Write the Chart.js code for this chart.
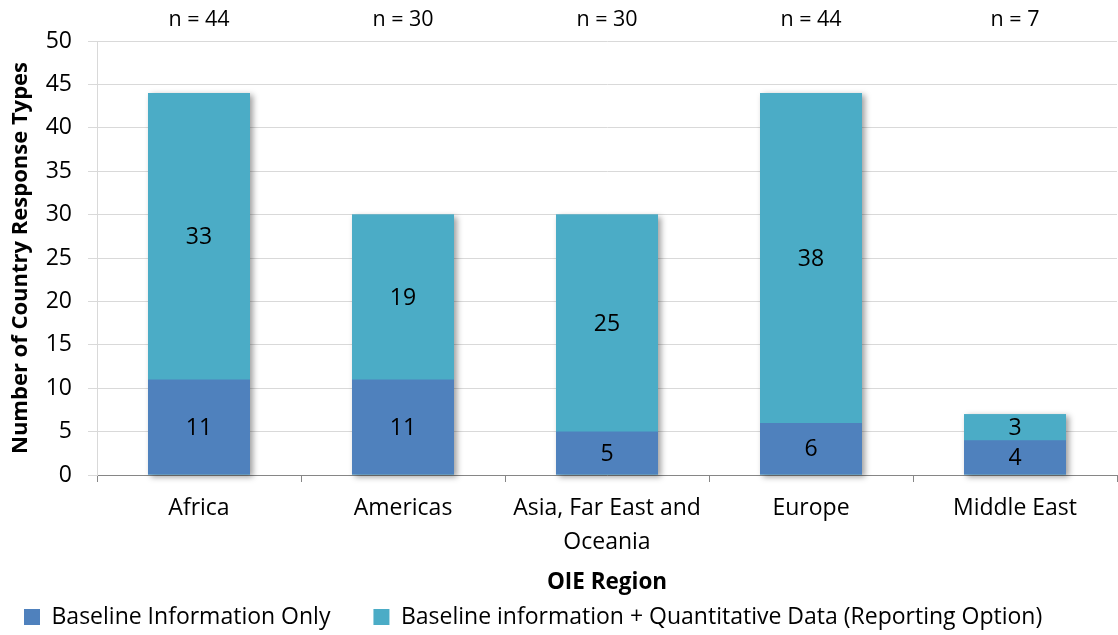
<!DOCTYPE html>
<html>
<head>
<meta charset="utf-8">
<script src="https://cdn.jsdelivr.net/npm/chart.js@4/dist/chart.umd.min.js"></script>
<style>
  html, body { margin: 0; padding: 0; background: #ffffff; }
  #wrap { width: 1118px; height: 635px; position: relative; }
</style>
</head>
<body>
<div id="wrap"><canvas id="chart"></canvas></div>
<script>
// OIE regions and the number of country response types in each
const regions = ['Africa', 'Americas', ['Asia, Far East and', 'Oceania'], 'Europe', 'Middle East'];
const baselineOnly = [11, 11, 5, 6, 4];
const baselinePlusQuant = [33, 19, 25, 38, 3];
const regionTotals = [44, 30, 30, 44, 7];
const yTicks = [0, 5, 10, 15, 20, 25, 30, 35, 40, 45, 50];

const FONT = "'Open Sans', 'DejaVu Sans', sans-serif";
const LEGEND_GAP = 43;

// Soft drop shadow behind each whole stacked column (drawn once, under the bars)
const columnShadow = {
  id: 'columnShadow',
  beforeDatasetsDraw(chart) {
    const ctx = chart.ctx;
    const metas = chart.data.datasets.map((_, di) => chart.getDatasetMeta(di));
    ctx.save();
    ctx.shadowColor = 'rgba(0,0,0,0.38)';
    ctx.shadowBlur = 6;
    ctx.shadowOffsetX = 3;
    ctx.shadowOffsetY = 2;
    ctx.fillStyle = '#4BACC6';
    regions.forEach((_, i) => {
      let top = Infinity, bottom = -Infinity, x = 0, w = 0;
      metas.forEach(m => {
        const p = m.data[i].getProps(['x', 'y', 'base', 'width'], true);
        top = Math.min(top, p.y, p.base);
        bottom = Math.max(bottom, p.y, p.base);
        x = p.x; w = p.width;
      });
      ctx.fillRect(x - w / 2, top, w, bottom - top);
    });
    ctx.restore();
  }
};

// Value printed in the middle of each segment
const segmentLabels = {
  id: 'segmentLabels',
  afterDatasetsDraw(chart) {
    const ctx = chart.ctx;
    ctx.save();
    ctx.font = '23px ' + FONT;
    ctx.fillStyle = '#000000';
    ctx.textAlign = 'center';
    ctx.textBaseline = 'middle';
    chart.data.datasets.forEach((ds, di) => {
      const meta = chart.getDatasetMeta(di);
      meta.data.forEach((bar, i) => {
        const p = bar.getProps(['x', 'y', 'base'], true);
        ctx.fillText(String(ds.data[i]), p.x, (p.y + p.base) / 2 + 1);
      });
    });
    ctx.restore();
  }
};

// "n = ..." totals above each region
const totalsAbove = {
  id: 'totalsAbove',
  afterDraw(chart) {
    const ctx = chart.ctx;
    const x = chart.scales.x;
    ctx.save();
    ctx.font = '21.5px ' + FONT;
    ctx.fillStyle = '#000000';
    ctx.textAlign = 'center';
    ctx.textBaseline = 'middle';
    regionTotals.forEach((n, i) => {
      ctx.fillText('n = ' + n, x.getPixelForValue(i), 20);
    });
    ctx.restore();
  }
};

// Keep the wide gap between legend entries while starting the first one near the left edge
const legendShift = {
  id: 'legendShift',
  beforeDraw(chart) {
    if (chart.legend) chart.legend.left = 24 - LEGEND_GAP;
  }
};

new Chart(document.getElementById('chart'), {
  type: 'bar',
  data: {
    labels: regions,
    datasets: [
      {
        label: 'Baseline Information Only',
        data: baselineOnly,
        backgroundColor: '#4F81BD',
        borderWidth: 0,
        categoryPercentage: 1.0,
        barPercentage: 0.5
      },
      {
        label: 'Baseline information + Quantitative Data (Reporting Option)',
        data: baselinePlusQuant,
        backgroundColor: '#4BACC6',
        borderWidth: 0,
        categoryPercentage: 1.0,
        barPercentage: 0.5
      }
    ]
  },
  options: {
    responsive: true,
    maintainAspectRatio: false,
    animation: false,
    layout: { padding: { top: 41, right: 1, left: 0, bottom: -3.5 } },
    plugins: {
      legend: {
        position: 'bottom',
        align: 'start',
        labels: {
          boxWidth: 16,
          boxHeight: 16,
          padding: LEGEND_GAP,
          color: '#000000',
          font: { family: FONT, size: 23 }
        }
      },
      tooltip: { enabled: false }
    },
    scales: {
      x: {
        stacked: true,
        afterFit(scale) { scale.height = 87.5; },
        grid: {
          offset: true,
          drawOnChartArea: false,
          tickLength: 7,
          color: '#868686'
        },
        border: { color: '#868686', width: 1 },
        ticks: {
          color: '#000000',
          padding: 9,
          maxRotation: 0,
          autoSkip: false,
          font: { family: FONT, size: 23, lineHeight: 1.48 }
        },
        title: {
          display: true,
          text: 'OIE Region',
          color: '#000000',
          padding: { top: 0, bottom: -34 },
          font: { family: FONT, size: 22.5, weight: 'bold' }
        }
      },
      y: {
        stacked: true,
        min: 0,
        max: 50,
        afterBuildTicks(scale) {
          scale.ticks = yTicks.map(v => ({ value: v }));
        },
        afterFit(scale) { scale.width = 97; },
        grid: {
          color: '#d9d9d9',
          tickLength: 9
        },
        border: { color: '#d9d9d9', width: 1 },
        ticks: {
          color: '#000000',
          padding: 16,
          font: { family: FONT, size: 23 }
        },
        title: {
          display: true,
          text: 'Number of Country Response Types',
          color: '#000000',
          padding: { top: 8, bottom: 0 },
          font: { family: FONT, size: 22, weight: 'bold' }
        }
      }
    }
  },
  plugins: [columnShadow, segmentLabels, totalsAbove, legendShift]
});
</script>
</body>
</html>
